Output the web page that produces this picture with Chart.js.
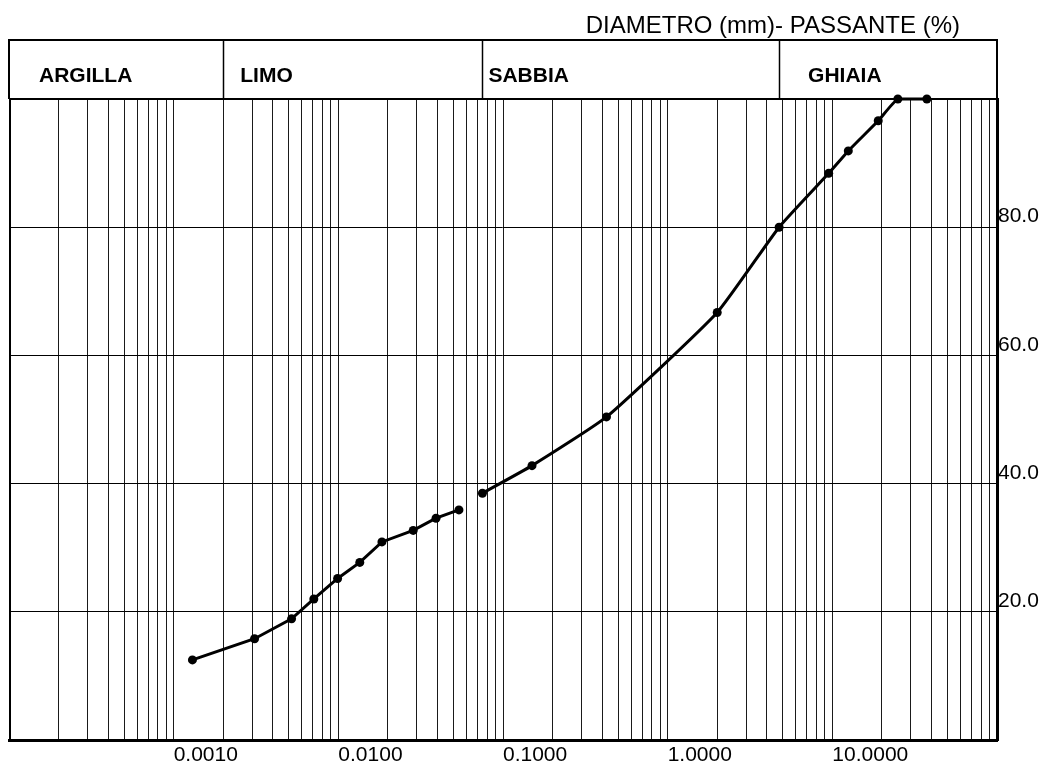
<!DOCTYPE html>
<html><head><meta charset="utf-8">
<script src="https://cdn.jsdelivr.net/npm/chart.js@4/dist/chart.umd.min.js"></script>
<style>html,body{margin:0;padding:0;background:#fff}#wrap{width:1042px;height:765px;position:relative}canvas{display:block}</style>
</head><body><div id="wrap"><canvas id="c" width="1042" height="765"></canvas></div>
<script>
const titleText = 'DIAMETRO (mm)- PASSANTE (%)';
const zoneNames = ['ARGILLA', 'LIMO', 'SABBIA', 'GHIAIA'];
const zoneBounds = [0.0001, 0.002, 0.075, 4.75, 100];
const xTickValues = [0.001, 0.01, 0.1, 1, 10];
const xTickLabels = ['0.0010', '0.0100', '0.1000', '1.0000', '10.0000'];
const yTickValues = [20, 40, 60, 80];
const yTickLabels = ['20.0', '40.0', '60.0', '80.0'];
const hydroDiam = [0.0013, 0.0031, 0.0052, 0.0071, 0.0099, 0.0135, 0.0184, 0.0285, 0.0392, 0.054];
const hydroPass = [12.5, 15.8, 18.9, 22.0, 25.2, 27.7, 30.9, 32.7, 34.6, 35.9];
const sieveDiam = [0.075, 0.15, 0.425, 2.0, 4.75, 9.5, 12.5, 19, 25, 37.5];
const sievePass = [38.5, 42.8, 50.4, 66.7, 80.0, 88.4, 91.9, 96.6, 100, 100];

const FONT = '"Liberation Sans", Arial, Helvetica, sans-serif';

// vertical grid values: 1..9 x 10^k over the axis range
const gridVals = [];
for (let k = -4; k <= 1; k++) {
  for (let m = 1; m <= 9; m++) gridVals.push(+(m * Math.pow(10, k)).toPrecision(6));
}
gridVals.push(100);

function near(a, b) { return Math.abs(a - b) <= Math.abs(b) * 1e-6; }

const headerPlugin = {
  id: 'header',
  beforeDatasetsDraw(chart) {
    const { ctx, chartArea } = chart;
    const { left, right, top, bottom } = chartArea;
    ctx.save();
    ctx.strokeStyle = '#000';
    ctx.lineWidth = 2;
    ctx.beginPath();
    ctx.moveTo(left + 1, bottom); ctx.lineTo(left + 1, top); ctx.lineTo(right, top);
    ctx.stroke();
    ctx.restore();
  },
  afterDraw(chart) {
    const { ctx, chartArea } = chart;
    const { left, right, top } = chartArea;
    const xs = chart.scales.x;
    const bandTop = 40;
    ctx.save();
    ctx.strokeStyle = '#000';
    ctx.lineWidth = 2;
    ctx.beginPath();
    ctx.moveTo(left, top); ctx.lineTo(left, bandTop); ctx.lineTo(right, bandTop); ctx.lineTo(right, top);
    ctx.stroke();
    ctx.lineWidth = 1.5;
    zoneBounds.slice(1, -1).forEach(b => {
      const px = Math.round(xs.getPixelForValue(b)) + 0.5;
      ctx.beginPath(); ctx.moveTo(px, bandTop); ctx.lineTo(px, top - 1); ctx.stroke();
    });
    ctx.fillStyle = '#000';
    ctx.font = 'bold 21px ' + FONT;
    ctx.textAlign = 'left';
    ctx.textBaseline = 'alphabetic';
    const offs = [30, 17, 6, 29];
    zoneNames.forEach((n, i) => {
      const x0 = xs.getPixelForValue(zoneBounds[i]);
      ctx.fillText(n, x0 + offs[i], 82);
    });
    ctx.font = '24px ' + FONT;
    ctx.textAlign = 'right';
    ctx.fillText(titleText, 960, 33);
    ctx.restore();
  }
};

const lineStyle = {
  borderColor: '#000', backgroundColor: '#000', borderWidth: 3,
  pointRadius: 4.5, pointBorderWidth: 0, pointBackgroundColor: '#000', clip: 8
};

new Chart(document.getElementById('c').getContext('2d'), {
  type: 'line',
  data: {
    datasets: [
      Object.assign({ data: hydroDiam.map((d, i) => ({ x: d, y: hydroPass[i] })), tension: 0 }, lineStyle),
      Object.assign({ data: sieveDiam.map((d, i) => ({ x: d, y: sievePass[i] })), tension: 0.15 }, lineStyle)
    ]
  },
  options: {
    responsive: false,
    animation: false,
    devicePixelRatio: 1,
    layout: { padding: { top: 99, left: 9, right: 0, bottom: 0 } },
    plugins: { legend: { display: false }, tooltip: { enabled: false } },
    scales: {
      x: {
        type: 'logarithmic', min: 0.0001, max: 100, position: 'bottom',
        afterBuildTicks: s => { s.ticks = gridVals.map(v => ({ value: v })); },
        afterFit: s => { s.height = 25; },
        ticks: {
          autoSkip: false, maxRotation: 0, minRotation: 0, align: 'start', padding: 3,
          color: '#000', font: { family: FONT, size: 21 },
          callback: v => { const i = xTickValues.findIndex(t => near(v, t)); return i >= 0 ? xTickLabels[i] : ''; }
        },
        grid: { color: '#1a1a1a', lineWidth: 1, drawTicks: false },
        border: { display: true, color: '#000', width: 3 }
      },
      y: {
        position: 'right', min: 0, max: 100,
        afterBuildTicks: s => { s.ticks = [0, 20, 40, 60, 80, 100].map(v => ({ value: v })); },
        afterFit: s => { s.width = 45; },
        ticks: {
          align: 'end', padding: 1, color: '#000', font: { family: FONT, size: 21 },
          callback: v => { const i = yTickValues.indexOf(v); return i >= 0 ? yTickLabels[i] : ''; }
        },
        grid: { color: '#000', lineWidth: 1, drawTicks: false },
        border: { display: true, color: '#000', width: 3 }
      }
    }
  },
  plugins: [headerPlugin]
});
</script>
</body></html>
